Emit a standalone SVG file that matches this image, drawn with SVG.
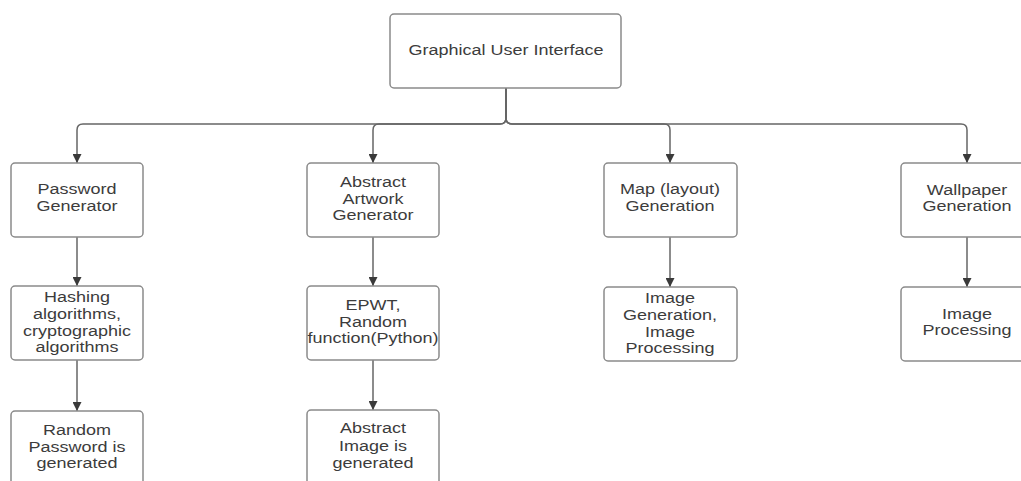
<svg xmlns="http://www.w3.org/2000/svg" width="1021" height="481" viewBox="0 0 1021 481">
<defs>
<style>
.box{fill:#fff;stroke:#8a8a8a;stroke-width:1.5}
.t{font-family:"Liberation Sans",Arial,sans-serif;font-size:15px;fill:#3c3c3c;text-anchor:middle}
.c{fill:none;stroke:#666;stroke-width:1.5}
</style>
<marker id="ah" viewBox="0 0 10 10" refX="10" refY="5" markerWidth="10" markerHeight="9" markerUnits="userSpaceOnUse" orient="auto">
<path d="M0,0 L10,5 L0,10 z" fill="#3a3a3a"/>
</marker>
</defs>
<rect width="1021" height="481" fill="#fff"/>
<g id="connectors">
<path class="c" d="M506,88 V118 Q506,124 500,124 H83 Q77,124 77,130 V163" marker-end="url(#ah)"/>
<path class="c" d="M506,88 V118 Q506,124 500,124 H379 Q373,124 373,130 V163" marker-end="url(#ah)"/>
<path class="c" d="M506,88 V118 Q506,124 512,124 H664 Q670,124 670,130 V163" marker-end="url(#ah)"/>
<path class="c" d="M506,88 V118 Q506,124 512,124 H961 Q967,124 967,130 V163" marker-end="url(#ah)"/>
<path class="c" d="M77,237 V286" marker-end="url(#ah)"/>
<path class="c" d="M77,360 V411" marker-end="url(#ah)"/>
<path class="c" d="M373,237 V286" marker-end="url(#ah)"/>
<path class="c" d="M373,360 V410" marker-end="url(#ah)"/>
<path class="c" d="M670,237 V287" marker-end="url(#ah)"/>
<path class="c" d="M967,237 V287" marker-end="url(#ah)"/>
</g>
<g id="gui">
<rect class="box" x="390" y="14" width="231" height="74" rx="4"/>
<text class="t" transform="translate(506,0) scale(1.2,1)"><tspan x="0" y="55">Graphical User Interface</tspan></text>
</g>
<g id="password-generator">
<rect class="box" x="11" y="163" width="132" height="74" rx="4"/>
<text class="t" transform="translate(77,0) scale(1.2,1)"><tspan x="0" y="194">Password</tspan><tspan x="0" y="211">Generator</tspan></text>
</g>
<g id="hashing">
<rect class="box" x="11" y="286" width="132" height="74" rx="4"/>
<text class="t" transform="translate(77,0) scale(1.2,1)"><tspan x="0" y="302">Hashing</tspan><tspan x="0" y="319">algorithms,</tspan><tspan x="0" y="336">cryptographic</tspan><tspan x="0" y="352">algorithms</tspan></text>
</g>
<g id="random-password">
<rect class="box" x="11" y="411" width="132" height="80" rx="4"/>
<text class="t" transform="translate(77,0) scale(1.2,1)"><tspan x="0" y="435">Random</tspan><tspan x="0" y="452">Password is</tspan><tspan x="0" y="468">generated</tspan></text>
</g>
<g id="abstract-artwork">
<rect class="box" x="307" y="163" width="132" height="74" rx="4"/>
<text class="t" transform="translate(373,0) scale(1.2,1)"><tspan x="0" y="187">Abstract</tspan><tspan x="0" y="204">Artwork</tspan><tspan x="0" y="220">Generator</tspan></text>
</g>
<g id="epwt">
<rect class="box" x="307" y="286" width="132" height="74" rx="4"/>
<text class="t" transform="translate(373,0) scale(1.2,1)"><tspan x="0" y="310">EPWT,</tspan><tspan x="0" y="327">Random</tspan><tspan x="0" y="343">function(Python)</tspan></text>
</g>
<g id="abstract-image">
<rect class="box" x="307" y="410" width="132" height="80" rx="4"/>
<text class="t" transform="translate(373,0) scale(1.2,1)"><tspan x="0" y="433">Abstract</tspan><tspan x="0" y="451">Image is</tspan><tspan x="0" y="468">generated</tspan></text>
</g>
<g id="map-generation">
<rect class="box" x="604" y="163" width="133" height="74" rx="4"/>
<text class="t" transform="translate(670,0) scale(1.2,1)"><tspan x="0" y="194">Map (layout)</tspan><tspan x="0" y="211">Generation</tspan></text>
</g>
<g id="image-gen-proc">
<rect class="box" x="604" y="287" width="133" height="74" rx="4"/>
<text class="t" transform="translate(670,0) scale(1.2,1)"><tspan x="0" y="303">Image</tspan><tspan x="0" y="320">Generation,</tspan><tspan x="0" y="337">Image</tspan><tspan x="0" y="353">Processing</tspan></text>
</g>
<g id="wallpaper-generation">
<rect class="box" x="901" y="163" width="132" height="74" rx="4"/>
<text class="t" transform="translate(967,0) scale(1.2,1)"><tspan x="0" y="195">Wallpaper</tspan><tspan x="0" y="211">Generation</tspan></text>
</g>
<g id="image-processing">
<rect class="box" x="901" y="287" width="132" height="74" rx="4"/>
<text class="t" transform="translate(967,0) scale(1.2,1)"><tspan x="0" y="319">Image</tspan><tspan x="0" y="335">Processing</tspan></text>
</g>
</svg>
